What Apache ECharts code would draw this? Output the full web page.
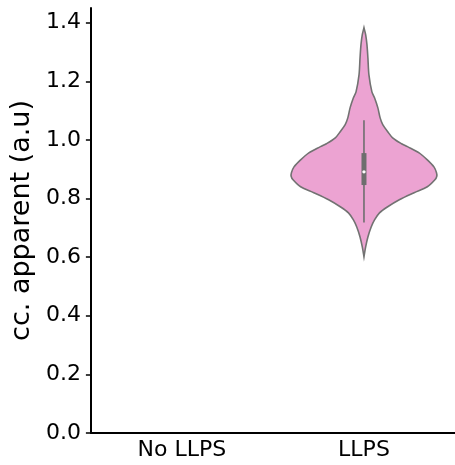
<!DOCTYPE html>
<html>
<head>
<meta charset="utf-8">
<script src="https://cdn.jsdelivr.net/npm/echarts@6/dist/echarts.min.js"></script>
<style>
  html, body { margin: 0; padding: 0; background: #fff; }
  #chart { width: 455px; height: 465px; }
</style>
</head>
<body>
<div id="chart"></div>
<script>
// categories on the x axis
var categories = ['No LLPS', 'LLPS']
var yTicks = [0, 0.2, 0.4, 0.6, 0.8, 1.0, 1.2, 1.4]

// violin outline for LLPS: value -> relative density
var violinValues = [1.383, 1.359, 1.325, 1.280, 1.222, 1.164, 1.144, 1.110, 1.076, 1.052, 1.028, 1.007, 0.987, 0.977, 0.956, 0.932, 0.908, 0.888, 0.876, 0.864, 0.840, 0.820, 0.796, 0.772, 0.751, 0.727, 0.703, 0.669, 0.635, 0.601]
var violinDensity = [0, 0.023, 0.041, 0.054, 0.068, 0.109, 0.145, 0.190, 0.221, 0.258, 0.326, 0.394, 0.516, 0.598, 0.757, 0.870, 0.961, 0.996, 1.000, 0.974, 0.870, 0.689, 0.485, 0.326, 0.213, 0.145, 0.099, 0.054, 0.023, 0]

// inner box: [whiskerLow, q1, median, q3, whiskerHigh]
var boxStats = [0.718, 0.846, 0.891, 0.955, 1.067]
var violinCategory = 1

var chart = echarts.init(document.getElementById('chart'))

function renderViolin(params, api) {
  var ci = api.value(0)
  var band = api.size([1, 0])[0]
  var half = band * 0.4
  var cx = api.coord([ci, 0])[0]
  var right = []
  var left = []
  for (var i = 0; i < violinValues.length; i++) {
    var y = api.coord([ci, violinValues[i]])[1]
    right.push([cx + violinDensity[i] * half, y])
    left.unshift([cx - violinDensity[i] * half, y])
  }
  var yLow = api.coord([ci, boxStats[0]])[1]
  var yQ1 = api.coord([ci, boxStats[1]])[1]
  var yMed = api.coord([ci, boxStats[2]])[1]
  var yQ3 = api.coord([ci, boxStats[3]])[1]
  var yHigh = api.coord([ci, boxStats[4]])[1]
  return {
    type: 'group',
    children: [
      {
        type: 'polygon',
        shape: { points: right.concat(left), smooth: 0.3 },
        style: { fill: '#eca3d2', stroke: '#727272', lineWidth: 1.6 }
      },
      {
        type: 'line',
        shape: { x1: cx, y1: yHigh, x2: cx, y2: yLow },
        style: { stroke: '#6e6e6e', lineWidth: 1.6 }
      },
      {
        type: 'rect',
        shape: { x: cx - 2.5, y: yQ3, width: 5, height: yQ1 - yQ3 },
        style: { fill: '#6e6e6e' }
      },
      {
        type: 'circle',
        shape: { cx: cx, cy: yMed, r: 1.7 },
        style: { fill: '#ffffff' }
      }
    ]
  }
}

var option = {
  animation: false,
  grid: { left: 88, right: 0, top: 8, bottom: 32 },
  xAxis: {
    type: 'category',
    data: categories,
    boundaryGap: true,
    axisLine: { lineStyle: { color: '#000', width: 2 } },
    axisTick: { alignWithLabel: true, length: 5, lineStyle: { color: '#000', width: 1.5 } },
    axisLabel: { color: '#000', fontSize: 22, fontFamily: 'DejaVu Sans', margin: 6 },
    splitLine: { show: false }
  },
  yAxis: {
    type: 'value',
    min: 0,
    max: 1.45,
    name: 'cc. apparent (a.u)',
    nameLocation: 'middle',
    nameGap: 50,
    nameTextStyle: { color: '#000', fontSize: 27, fontFamily: 'DejaVu Sans' },
    axisLine: { show: true, lineStyle: { color: '#000', width: 2 } },
    axisTick: { show: true, length: 5, customValues: yTicks, lineStyle: { color: '#000', width: 1.5 } },
    axisLabel: {
      color: '#000', fontSize: 22, fontFamily: 'DejaVu Sans', margin: 10,
      customValues: yTicks,
      formatter: function(v) { return v.toFixed(1) }
    },
    splitLine: { show: false }
  },
  series: [
    {
      type: 'custom',
      renderItem: renderViolin,
      data: [[violinCategory]],
      encode: { x: 0 },
      clip: false
    }
  ]
}
chart.setOption(option)
window.addEventListener('resize', function() {
  chart.resize()
})
</script>
</body>
</html>
